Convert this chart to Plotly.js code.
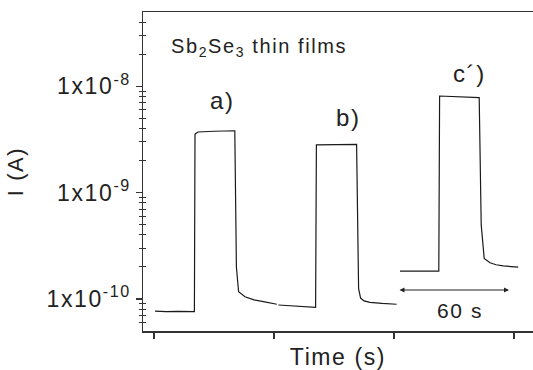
<!DOCTYPE html>
<html>
<head>
<meta charset="utf-8">
<script src="https://cdn.plot.ly/plotly-3.0.1.min.js"></script>
<style>
html,body{margin:0;padding:0;background:#fff;}
#chart{width:533px;height:370px;}
svg text{letter-spacing:1.6px;}
</style>
</head>
<body>
<div id="chart"></div>
<script>
// Time (s) and current (A) for each photoresponse cycle
const timeA = [0.5, 6, 12, 20.2, 20.5, 22, 30, 40.4, 41.2, 41.6, 42.3, 45.5, 50, 54.7, 58, 61.4];
const currA = [7.7e-11, 7.6e-11, 7.65e-11, 7.6e-11, 3.55e-9, 3.72e-9, 3.78e-9, 3.82e-9, 2.0e-10, 1.51e-10, 1.17e-10, 1.05e-10, 9.8e-11, 9.44e-11, 9.2e-11, 8.92e-11];

const timeB = [62.2, 70, 76, 80.8, 81.2, 90, 101.3, 102.3, 103.3, 105, 108, 114, 121.3];
const currB = [8.78e-11, 8.6e-11, 8.5e-11, 8.36e-11, 2.82e-9, 2.84e-9, 2.84e-9, 1.25e-10, 1.02e-10, 9.6e-11, 9.31e-11, 9.1e-11, 8.92e-11];

const timeC = [123, 133, 142.4, 142.8, 152, 162.6, 163.6, 164.3, 165.1, 168, 171, 174.6, 182.1];
const currC = [1.83e-10, 1.83e-10, 1.83e-10, 8.11e-9, 7.95e-9, 7.83e-9, 5.0e-10, 3.4e-10, 2.41e-10, 2.19e-10, 2.1e-10, 2.05e-10, 1.99e-10];

const seriesLabels = ["a)", "b)", "c\u00b4)"];
const yTickVals = [1e-10, 1e-9, 1e-8];
const yTickText = ["1x10<sup>-10</sup>", "1x10<sup>-9</sup>", "1x10<sup>-8</sup>"];
const yMinorVals = [6e-11,7e-11,8e-11,9e-11,2e-10,3e-10,4e-10,5e-10,6e-10,7e-10,8e-10,9e-10,
                    2e-9,3e-9,4e-9,5e-9,6e-9,7e-9,8e-9,9e-9,2e-8,3e-8,4e-8];
const xTickVals = [0, 60, 120, 180];
const scaleBar = {start: 122, end: 177.5, level: 1.215e-10, label: "60 s"};
const sampleLabel = "Sb<sub>2</sub>Se<sub>3</sub> thin films";

const lineStyle = {color: "#1a1a1a", width: 1.2};
const traces = [
  {x: timeA, y: currA, name: seriesLabels[0]},
  {x: timeB, y: currB, name: seriesLabels[1]},
  {x: timeC, y: currC, name: seriesLabels[2]}
].map(t => Object.assign(t, {type: "scatter", mode: "lines", line: lineStyle, showlegend: false, hoverinfo: "skip"}));

// invisible companion trace so the overlay axis (inner minor ticks) is drawn
traces.push({x: [timeA[0]], y: [currA[0]], yaxis: "y2", type: "scatter", mode: "lines", showlegend: false, hoverinfo: "skip", line: {width: 0}});

const fnt = {family: "Liberation Sans, Arial, sans-serif", color: "#222"};
const f = s => Object.assign({}, fnt, {size: s});
const yRange = [Math.log10(5e-11), Math.log10(5e-8)];

const layout = {
  width: 533, height: 370,
  margin: {l: 143, r: 0, t: 12, b: 39},
  paper_bgcolor: "#fff", plot_bgcolor: "#fff",
  font: f(21),
  xaxis: {
    range: [-5.5, 189.5], showgrid: false, zeroline: false,
    showline: true, linecolor: "#333", linewidth: 1.5, mirror: true,
    tickmode: "array", tickvals: xTickVals, showticklabels: false,
    ticks: "outside", ticklen: 6, tickwidth: 1.3, tickcolor: "#333",
    title: {text: "Time (s)", font: f(23), standoff: 11}
  },
  yaxis: {
    type: "log", range: yRange, showgrid: false, zeroline: false,
    showline: true, linecolor: "#333", linewidth: 1.5,
    tickmode: "array", tickvals: yTickVals, ticktext: yTickText,
    ticks: "outside", ticklen: 6, tickwidth: 1.3, tickcolor: "#333",
    tickfont: f(23),
    minor: {tickmode: "array", tickvals: yMinorVals, ticks: "outside", ticklen: 3, tickwidth: 1, tickcolor: "#333"},
    title: {text: "I (A)", font: f(22), standoff: 17}
  },
  yaxis2: {
    type: "log", range: yRange, overlaying: "y", anchor: "x", side: "left",
    showgrid: false, zeroline: false, showline: false, showticklabels: false,
    tickmode: "array", tickvals: yMinorVals, ticks: "inside", ticklen: 3, tickwidth: 1, tickcolor: "#333"
  },
  annotations: [
    {xref: "paper", yref: "paper", x: 0.2026, y: 0.7217, xanchor: "center", yanchor: "middle", text: seriesLabels[0], showarrow: false, font: f(24)},
    {xref: "paper", yref: "paper", x: 0.528, y: 0.670, xanchor: "center", yanchor: "middle", text: seriesLabels[1], showarrow: false, font: f(24)},
    {xref: "paper", yref: "paper", x: 0.838, y: 0.806, xanchor: "center", yanchor: "middle", text: seriesLabels[2], showarrow: false, font: f(24)},
    {xref: "paper", yref: "paper", x: 0.0667, y: 0.888, xanchor: "left", yanchor: "middle", text: sampleLabel, showarrow: false, font: f(20)},
    {xref: "x", yref: "y", axref: "x", ayref: "y",
     x: scaleBar.end, y: Math.log10(scaleBar.level), ax: scaleBar.start, ay: Math.log10(scaleBar.level),
     text: "", showarrow: true, arrowhead: 2, arrowside: "end+start", arrowsize: 1, arrowwidth: 1, arrowcolor: "#222", standoff: 0, startstandoff: 0},
    {xref: "paper", yref: "paper", x: 0.813, y: 0.0637, xanchor: "center", yanchor: "middle", text: scaleBar.label, showarrow: false, font: f(21)}
  ]
};

Plotly.newPlot("chart", traces, layout, {displayModeBar: false, staticPlot: true});
</script>
</body>
</html>
